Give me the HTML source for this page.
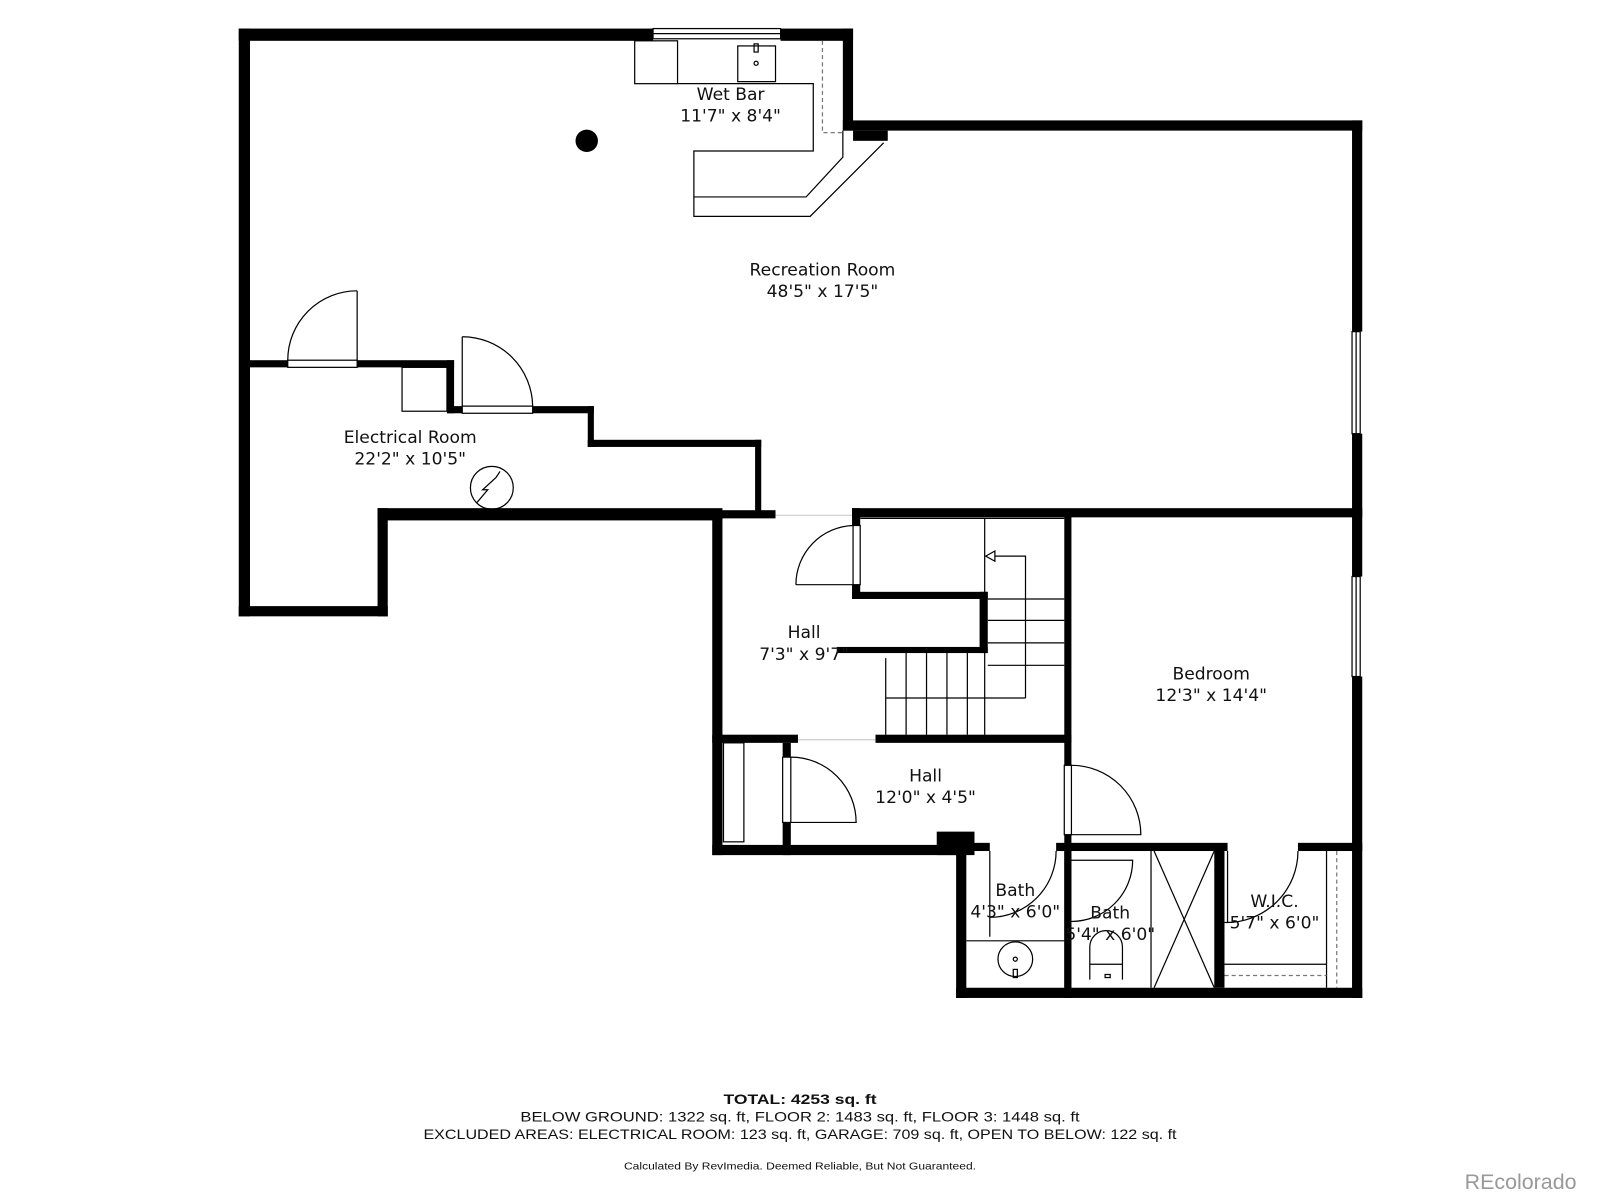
<!DOCTYPE html>
<html><head><meta charset="utf-8"><style>
html,body{margin:0;padding:0;background:#fff;}
svg{display:block;}
text{font-family:"Liberation Sans",sans-serif;fill:#111;}
.lab{font-family:"DejaVu Sans","Liberation Sans",sans-serif;}
</style></head><body>
<svg width="1600" height="1200" viewBox="0 0 1568 1176" preserveAspectRatio="none" xmlns="http://www.w3.org/2000/svg">
<rect width="1568" height="1176" fill="#fff"/>
<g fill="#000">
<rect x="234" y="28" width="406" height="12"/>
<rect x="765" y="28" width="71" height="12"/>
<rect x="826" y="28" width="10" height="100"/>
<rect x="826" y="118" width="509" height="10"/>
<rect x="836" y="128" width="34" height="10"/>
<rect x="1325" y="118" width="10" height="207"/>
<rect x="1325" y="425" width="10" height="140"/>
<rect x="1325" y="663" width="10" height="315"/>
<rect x="234" y="28" width="11" height="576"/>
<rect x="234" y="594" width="146" height="10"/>
<rect x="370" y="498" width="10" height="106"/>
<rect x="370" y="498" width="338" height="12"/>
<rect x="245" y="353" width="37" height="7"/>
<rect x="350" y="353" width="95" height="7"/>
<rect x="438" y="353" width="7" height="52"/>
<rect x="438" y="398" width="15" height="7"/>
<rect x="522" y="398" width="60" height="7"/>
<rect x="576" y="398" width="6" height="40"/>
<rect x="576" y="431" width="170" height="7"/>
<rect x="740" y="431" width="6" height="70"/>
<rect x="698" y="500" width="62" height="8"/>
<rect x="835" y="498" width="500" height="9"/>
<rect x="698" y="500" width="10" height="338"/>
<rect x="835" y="498" width="8" height="17"/>
<rect x="835" y="573" width="8" height="14"/>
<rect x="835" y="580" width="133" height="7"/>
<rect x="960" y="580" width="8" height="60"/>
<rect x="820" y="634" width="148" height="6"/>
<rect x="1043" y="500" width="7" height="250"/>
<rect x="1043" y="818" width="7" height="160"/>
<rect x="698" y="720" width="84" height="8"/>
<rect x="858" y="720" width="192" height="8"/>
<rect x="767" y="728" width="8" height="14"/>
<rect x="767" y="806" width="8" height="32"/>
<rect x="698" y="828" width="242" height="10"/>
<rect x="918" y="815" width="37" height="23"/>
<rect x="937" y="828" width="10" height="150"/>
<rect x="937" y="968" width="398" height="10"/>
<rect x="947" y="826" width="23" height="8"/>
<rect x="1035" y="826" width="168" height="8"/>
<rect x="1272" y="826" width="63" height="8"/>
<rect x="1043" y="834" width="7" height="134"/>
<rect x="1190" y="828" width="10" height="140"/>
<circle cx="575" cy="138" r="11"/>
</g>
<g fill="none" stroke="#000" stroke-width="1.2">
<rect x="640" y="28" width="125" height="10"/><line x1="640" y1="33" x2="765" y2="33"/>
<rect x="1325" y="325" width="8" height="100"/><line x1="1329" y1="325" x2="1329" y2="425"/>
<rect x="1325" y="565" width="8" height="98"/><line x1="1329" y1="565" x2="1329" y2="663"/>
<rect x="622" y="40" width="42" height="42"/>
<rect x="723" y="45" width="37" height="35"/><rect x="739" y="43" width="4" height="8"/><circle cx="741" cy="62" r="2"/>
<polyline points="664,82 797,82 797,148 680,148 680,212 794,212 866,140"/>
<polyline points="680,193 790,193 826,154 826,128"/>
<polyline points="806,40 806,130 826,130" stroke-dasharray="4,3" stroke="#777"/>
<rect x="282" y="353" width="68" height="7"/><line x1="350" y1="353" x2="350" y2="285"/><path d="M350,285 A68,68 0 0 0 282,353"/>
<rect x="453" y="398" width="69" height="7"/><line x1="453" y1="398" x2="453" y2="330"/><path d="M453,330 A69,69 0 0 1 522,398"/>
<rect x="394" y="360" width="44" height="43"/>
<circle cx="482" cy="478" r="21"/><path d="M467,493 L478,480 L473,480 L486,468 L490,462"/>
<rect x="836" y="515" width="7" height="58"/><path d="M836,515 A58,58 0 0 0 780,573"/>
<line x1="780" y1="573" x2="836" y2="573"/>
<line x1="760" y1="505" x2="835" y2="505" stroke="#ccc"/>
<line x1="782" y1="725" x2="858" y2="725" stroke="#ccc"/>
<rect x="767" y="742" width="8" height="64"/><path d="M775,742 A64,64 0 0 1 839,806 L775,806"/>
<rect x="1043" y="750" width="7" height="68"/><path d="M1050,750 A68,68 0 0 1 1118,818 L1050,818"/>
<rect x="709" y="728" width="20" height="97"/>
<line x1="843" y1="508" x2="1043" y2="508" />
<line x1="965" y1="508" x2="965" y2="720"/>
<line x1="968" y1="587" x2="1043" y2="587"/><line x1="968" y1="608" x2="1043" y2="608"/><line x1="968" y1="630" x2="1043" y2="630"/><line x1="968" y1="652" x2="1043" y2="652"/>
<line x1="868" y1="645" x2="868" y2="720"/><line x1="888" y1="640" x2="888" y2="720"/><line x1="908" y1="640" x2="908" y2="720"/><line x1="928" y1="640" x2="928" y2="720"/><line x1="948" y1="640" x2="948" y2="720"/>
<line x1="868" y1="684" x2="1005" y2="684"/>
<polyline points="1005,684 1005,545 975,545"/><polygon points="966,545 975,540 975,550"/>
<path d="M970,834 L970,918 M1035,834 A65,65 0 0 1 970,899"/>
<line x1="947" y1="922" x2="1043" y2="922"/>
<circle cx="995" cy="940" r="17"/><circle cx="995" cy="940" r="2"/><rect x="993" y="950" width="4" height="8"/>
<path d="M1050,843 L1110,843 A60,60 0 0 1 1050,903"/>
<path d="M1068,960 L1068,928 A16,16 0 0 1 1100,928 L1100,960 M1068,945 L1100,945"/>
<rect x="1083" y="955" width="5" height="3"/>
<line x1="1128" y1="834" x2="1128" y2="968"/>
<line x1="1131" y1="834" x2="1190" y2="968"/><line x1="1190" y1="834" x2="1131" y2="968"/>
<path d="M1272,834 A70,70 0 0 1 1200,904 M1203,834 L1203,904"/>
<line x1="1200" y1="945" x2="1300" y2="945"/><line x1="1300" y1="834" x2="1300" y2="968"/>
<line x1="1310" y1="834" x2="1310" y2="968" stroke-dasharray="4,3" stroke="#777"/>
<line x1="1200" y1="956" x2="1300" y2="956" stroke-dasharray="4,3" stroke="#777"/>
</g>
<g class="lab" font-size="16.8" text-anchor="middle">
<text class="lab" x="716" y="98">Wet Bar</text><text class="lab" x="716" y="119">11'7" x 8'4"</text>
<text class="lab" x="806" y="270">Recreation Room</text><text class="lab" x="806" y="291">48'5" x 17'5"</text>
<text class="lab" x="402" y="434">Electrical Room</text><text class="lab" x="402" y="455">22'2" x 10'5"</text>
<text class="lab" x="788" y="625">Hall</text><text class="lab" x="788" y="647">7'3" x 9'7"</text>
<text class="lab" x="907" y="766">Hall</text><text class="lab" x="907" y="787">12'0" x 4'5"</text>
<text class="lab" x="1187" y="666">Bedroom</text><text class="lab" x="1187" y="687">12'3" x 14'4"</text>
<text class="lab" x="995" y="878">Bath</text><text class="lab" x="995" y="899">4'3" x 6'0"</text>
<text class="lab" x="1088" y="900">Bath</text><text class="lab" x="1088" y="921">5'4" x 6'0"</text>
<text class="lab" x="1249" y="889">W.I.C.</text><text class="lab" x="1249" y="910">5'7" x 6'0"</text>
</g>
<g text-anchor="middle" font-size="13.5">
<text x="784" y="1082" font-weight="bold" textLength="150" lengthAdjust="spacingAndGlyphs">TOTAL: 4253 sq. ft</text>
<text x="784" y="1099" textLength="548" lengthAdjust="spacingAndGlyphs">BELOW GROUND: 1322 sq. ft, FLOOR 2: 1483 sq. ft, FLOOR 3: 1448 sq. ft</text>
<text x="784" y="1116" textLength="738" lengthAdjust="spacingAndGlyphs">EXCLUDED AREAS: ELECTRICAL ROOM: 123 sq. ft, GARAGE: 709 sq. ft, OPEN TO BELOW: 122 sq. ft</text>
<text x="784" y="1146" font-size="10" textLength="345" lengthAdjust="spacingAndGlyphs">Calculated By RevImedia. Deemed Reliable, But Not Guaranteed.</text>
</g>
<text x="1545" y="1165" text-anchor="end" font-size="21" style="fill:#999">REcolorado</text>
</svg>
</body></html>
